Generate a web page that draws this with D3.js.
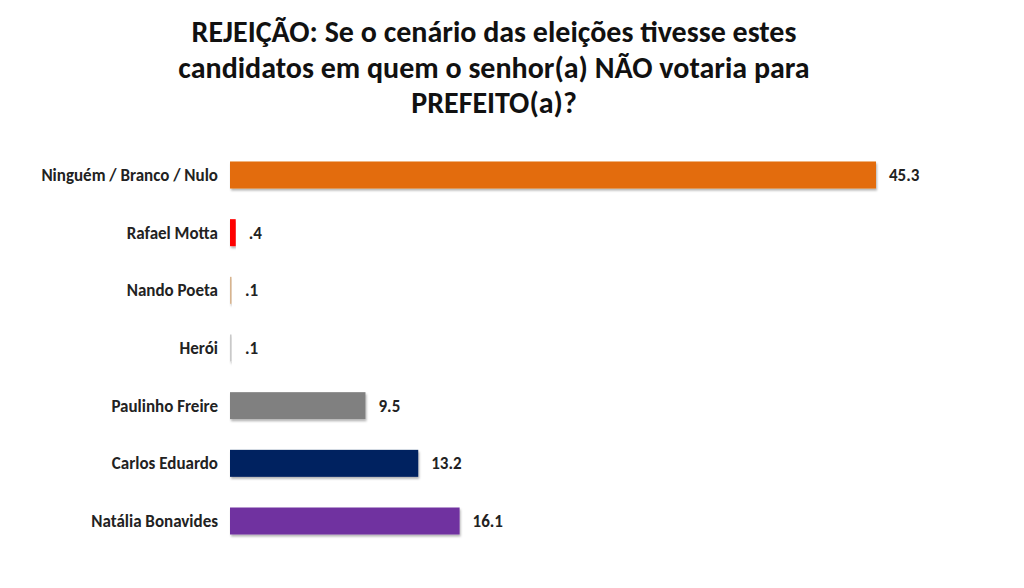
<!DOCTYPE html>
<html>
<head>
<meta charset="utf-8">
<script src="https://cdn.jsdelivr.net/npm/d3@7"></script>
<style>
  body { margin: 0; background: #fff; }
  svg { display: block; }
</style>
</head>
<body>
<div id="chart"></div>
<script>
var categories = ["Ninguém / Branco / Nulo", "Rafael Motta", "Nando Poeta", "Herói", "Paulinho Freire", "Carlos Eduardo", "Natália Bonavides"];
var values = [45.3, 0.4, 0.1, 0.1, 9.5, 13.2, 16.1];
var valueLabels = ["45.3", ".4", ".1", ".1", "9.5", "13.2", "16.1"];
var colors = ["#E36C0A", "#FF0000", "#D8B48E", "#C9C9C9", "#808080", "#002060", "#7030A0"];
var titleLines = ["REJEIÇÃO: Se o cenário das eleições tivesse estes", "candidatos em quem o senhor(a) NÃO votaria para", "PREFEITO(a)?"];

var width = 1024, height = 588;
var font = "Carlito, 'Liberation Sans Narrow', 'Open Sans', sans-serif";

var svg = d3.select("#chart").append("svg")
	.attr("width", width)
	.attr("height", height);

var defs = svg.append("defs");
defs.append("filter")
	.attr("id", "shadow")
	.attr("x", "-5%").attr("y", "-20%").attr("width", "110%").attr("height", "160%")
	.append("feDropShadow")
	.attr("dx", 1).attr("dy", 2)
	.attr("stdDeviation", 1.2)
	.attr("flood-color", "#000")
	.attr("flood-opacity", 0.3);

// title
svg.append("g").attr("class", "title")
	.selectAll("text")
	.data(titleLines)
	.enter()
	.append("text")
	.attr("x", 494)
	.attr("y", function(d, i) { return 42 + i * 35.5; })
	.attr("text-anchor", "middle")
	.attr("font-family", font)
	.attr("font-weight", "bold")
	.attr("font-size", 30)
	.attr("fill", "#111")
	.text(function(d) { return d; });

var x = d3.scaleLinear().domain([0, 45.3]).range([230, 876]);
var y = d3.scalePoint().domain(categories).range([175, 521]);
var barHeight = 27;

var rows = svg.append("g").attr("class", "bars")
	.selectAll("g")
	.data(categories)
	.enter()
	.append("g");

rows.append("rect")
	.attr("x", x(0))
	.attr("y", function(d) { return y(d) - barHeight / 2; })
	.attr("width", function(d, i) { return Math.max(1.5, x(values[i]) - x(0)); })
	.attr("height", barHeight)
	.attr("fill", function(d, i) { return colors[i]; })
	.attr("filter", "url(#shadow)");

rows.append("text")
	.attr("x", 218)
	.attr("y", function(d) { return y(d); })
	.attr("dy", "0.35em")
	.attr("text-anchor", "end")
	.attr("font-family", font)
	.attr("font-weight", "bold")
	.attr("font-size", 17)
	.attr("fill", "#222")
	.text(function(d) { return d; });

rows.append("text")
	.attr("x", function(d, i) { return Math.max(x(values[i]), x(0) + 2) + 13; })
	.attr("y", function(d) { return y(d); })
	.attr("dy", "0.35em")
	.attr("font-family", font)
	.attr("font-weight", "bold")
	.attr("font-size", 17)
	.attr("fill", "#222")
	.text(function(d, i) { return valueLabels[i]; });
</script>
</body>
</html>
